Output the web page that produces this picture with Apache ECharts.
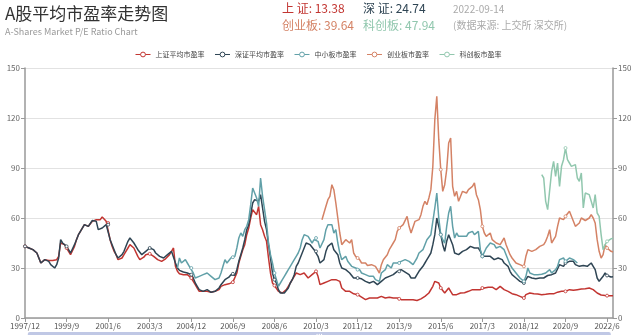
<!DOCTYPE html>
<html>
<head>
<meta charset="utf-8">
<title>A股平均市盈率走势图</title>
<script src="https://cdn.jsdelivr.net/npm/echarts@6/dist/echarts.min.js"></script>
<style>
  html, body { margin: 0; padding: 0; background: #fff; }
  #chart { width: 640px; height: 335px; }
</style>
</head>
<body>
<div id="chart"></div>
<script>
// Monthly P/E ratios, first month 1997/12, last month 2022/9
const FIRST_YEAR = 1997, FIRST_MONTH = 12, MONTH_COUNT = 298;

const seriesNames = ['上证平均市盈率', '深证平均市盈率', '中小板市盈率', '创业板市盈率', '科创板市盈率'];

// 上证 (from 1997/12)
const shPE = [
  43,
  42.5, 42, 41.5, 41, 40.5, 39, 36, 33, 34, 35, 35, 34.5,          // 1998
  34.5, 34.5, 34.5, 35, 37, 45, 44, 44, 42, 40, 38, 37.5,          // 1999
  43, 47, 50, 52, 53, 56, 57, 55, 56, 58, 59, 59,                  // 2000
  58, 59, 60.6, 61, 58, 57, 47, 43, 40, 38, 35, 34.5,              // 2001
  36, 38, 39, 42, 44, 44, 42, 41, 37, 35, 35.5, 36.5,              // 2002
  38, 39, 38.5, 38, 37, 36.5, 35, 34, 34, 35, 35.5, 36,            // 2003
  38, 40, 42, 31, 28, 26.6, 26.3, 26, 26, 26, 25, 24,              // 2004
  24, 20, 18, 16, 16, 16, 16, 16, 15.5, 15.4, 15.5, 16,            // 2005
  16.5, 17, 19, 20, 20, 20, 20.5, 21, 21.5, 22, 27, 33,            // 2006
  37, 41, 44, 50, 54, 60, 65, 64, 62, 67, 56, 53,                  // 2007
  49, 46, 36, 27, 21, 19.5, 20, 16, 15.5, 15, 15.5, 17,            // 2008
  19, 21, 23, 25, 27, 28, 26, 25, 27, 27, 24, 23,                  // 2009
  26, 27, 28, 25, 20, 19, 21, 21, 22, 22, 23, 22,                  // 2010
  23, 22, 22, 18, 17, 16, 16, 16, 15, 14.5, 14, 14,                // 2011
  14, 12.5, 11.5, 11, 12, 12, 12, 12, 12, 12, 12, 13,              // 2012
  12.5, 12, 13, 12.5, 12, 12, 12, 12, 11.5, 11, 11, 11,            // 2013
  11, 11, 11, 11, 10.5, 10.5, 11, 11.5, 12, 13, 14, 15,            // 2014
  16, 19, 22, 21, 21, 18, 17, 15, 16, 18, 16, 14,                  // 2015
  14, 14, 15, 15, 15, 15.2, 15.4, 16, 16, 17, 16.6, 17,            // 2016
  17, 17, 18, 18, 18, 18.5, 17.5, 18.5, 18, 17, 18, 19,            // 2017
  18, 17, 16.5, 16, 15, 14.6, 14.2, 14, 14, 13, 12.5, 12,          // 2018
  14, 15, 15, 15, 14.6, 14.6, 14.4, 14, 14, 14, 14.2, 14.6,        // 2019
  14.6, 14, 14.5, 15, 15.5, 16, 16, 15.4, 16, 16.5, 17, 17,        // 2020
  16.6, 16.8, 17, 17.2, 17.4, 17.4, 17.6, 18, 18, 18, 17, 16,      // 2021
  15, 14, 13.8, 14, 13.5, 13.4, 13.4, 13.4, 13.38                  // 2022
];

// 深证 (from 1997/12)
const szPE = [
  43,
  42.5, 42, 41.5, 41, 40.5, 39, 36, 33, 34, 35, 35, 34,            // 1998
  32, 31, 30, 32, 36, 47, 45, 44.5, 43, 41, 39, 38,                // 1999
  44, 47, 50, 52, 53, 56, 57, 55, 56, 58.5, 58, 58,                // 2000
  53, 52, 54, 55, 56, 56, 47, 44, 41, 38, 36, 36,                  // 2001
  38, 40, 41, 46, 48, 47, 45, 44, 41, 40, 38, 38,                  // 2002
  40, 41, 42, 43, 41, 39, 38, 37, 36, 36, 37, 38,                  // 2003
  39, 40, 39, 33, 30, 28.6, 28, 27.6, 28, 27, 26.5, 26,            // 2004
  24, 21, 19, 17, 16, 16, 16.5, 17, 16, 15.4, 15.5, 16,            // 2005
  17, 18, 20, 21, 23, 24, 24.5, 26, 26.5, 25.6, 29, 34,            // 2006
  38, 42, 47, 53, 56, 62, 69, 71, 72, 70, 74, 66,                  // 2007
  58, 53, 44, 36, 27, 23, 21, 17, 15, 14, 15, 16,                  // 2008
  18, 21, 23, 26, 31, 33, 36, 39, 42, 45, 46, 44,                  // 2009
  43, 41, 40, 37, 33, 32, 35, 40, 43, 44, 45, 41,                  // 2010
  42, 38, 33, 30, 29.5, 29, 28, 27, 25.5, 24, 23, 24,              // 2011
  25, 23.5, 23, 22, 21.5, 21, 22, 22, 21, 20, 19, 22,              // 2012
  23, 24, 25, 25, 25, 26, 27, 28, 28, 29, 28, 27.5,                // 2013
  27, 26, 24, 23, 24, 26, 28, 29.5, 31, 33, 35, 37,                // 2014
  39, 44, 50, 60, 55, 50, 44, 40, 46, 50, 51, 44,                  // 2015
  39, 40, 38, 39, 40, 40, 41, 42, 43, 44, 42, 41,                  // 2016
  42, 40, 37, 36, 37, 38, 37, 36, 35, 35.5, 36, 36,                // 2017
  35, 33, 32, 31, 28, 26, 25, 24, 23, 22, 21.5, 21,                // 2018
  23, 25, 24.5, 24, 23.5, 23.5, 24, 24, 24, 24, 25, 25.5,          // 2019
  25, 26, 27, 27, 28, 32, 31, 31, 33, 33.5, 34, 35,                // 2020
  34, 32, 31, 31, 32, 31.5, 31, 31, 32, 33, 31, 29,                // 2021
  24, 22, 23, 25, 27, 25.5, 25, 24.6, 24.74                        // 2022
];

// 中小板 (2004/5 - 2021/3)
const smeStart = '2004/5';
const smePE = [
  30, 36, 33, 32, 35, 33, 31, 30,                                  // 2004
  27, 24, 23, 25, 26, 26, 27, 27, 26, 25, 24, 23,                  // 2005
  22, 24, 27, 31, 35, 33, 34, 36, 36.5, 37, 42, 48,                // 2006
  51, 49, 53, 55, 59, 68, 78, 77, 72, 67, 84, 73,                  // 2007
  65, 57, 45, 38, 33, 27, 23, 19, 21, 23, 25, 27,                  // 2008
  29, 31, 32, 35, 37, 39, 42, 47, 50, 50.6, 49, 48,                // 2009
  45, 47, 48, 46, 42, 41, 47, 53, 56, 57, 56, 51,                  // 2010
  53, 45, 39, 35, 36, 37, 34, 33, 31, 30, 30, 29,                  // 2011
  29, 27, 27, 26, 25, 25, 26, 25, 23, 23, 22, 27,                  // 2012
  28, 29, 32, 31, 30, 33, 34, 33, 33, 34, 35, 35,                  // 2013
  35, 34, 33, 32, 34, 36, 39, 40, 41, 44, 47, 48,                  // 2014
  50, 58, 66, 75, 60, 50, 47, 45, 55, 63, 67, 55,                  // 2015
  48, 51, 49, 50, 49, 50, 49, 51, 50, 52, 50, 49,                  // 2016
  52, 41, 37, 38, 42, 43, 45, 44, 44, 42, 42, 43,                  // 2017
  42, 41, 38, 35, 32, 30, 29, 27, 26, 24, 23, 22,                  // 2018
  25, 30, 27, 26, 26, 26, 26, 26, 26.2, 26.6, 27, 28,              // 2019
  29, 27, 28, 29, 31, 35, 36, 36, 34, 35, 36, 36.4,                // 2020
  35, 34, 33                                                       // 2021
];

// 创业板 (from 2010/6)
const gemStart = '2010/6';
const gemPE = [
  59, 63, 67, 71, 73, 80, 77,                                      // 2010
  69, 60, 51, 44, 43, 47, 46, 45, 47, 39, 37, 36,                  // 2011
  35, 33, 32, 33, 31.5, 31, 32, 31.5, 31, 29, 27, 32,              // 2012
  35, 36, 38, 41, 43, 45, 47, 52, 54, 53, 56, 57,                  // 2013
  61, 55, 51, 50, 58, 58, 59, 62, 67, 70, 68, 72,                  // 2014
  77, 91, 119, 133, 107, 89, 76, 80, 89, 105, 108, 79,             // 2015
  73, 76, 70, 73, 76, 75, 75, 77, 76, 79, 81, 74,                  // 2016
  71, 65, 55, 51, 49, 50, 51, 47, 46, 45, 46, 44,                  // 2017
  45, 48, 44, 41, 38, 36, 35, 33, 33, 32, 31.5, 31,                // 2018
  37, 41, 40.5, 40, 41, 41, 42, 43, 43.5, 44, 46, 49,              // 2019
  53, 45, 46, 49, 55, 60, 61, 59, 61, 62, 64, 65,                  // 2020
  58, 55, 54, 57, 60, 59, 58.5, 58, 60, 62, 60, 57,                // 2021
  47, 40, 36, 38, 44, 42, 41, 40, 39.64                            // 2022
];

// 科创板 (from 2019/9)
const starStart = '2019/9';
const starPE = [
  86, 84, 70, 65,                                                  // 2019
  65, 88, 94, 85, 93, 79, 91, 95, 102, 95, 93, 91,                 // 2020
  91, 92, 84, 82, 87, 66, 75, 74, 74, 70, 66, 74,                  // 2021
  63, 61, 50, 41, 44, 46, 47, 47.5, 47.94                          // 2022
];

// Latest readings shown in the header
const latestDate = '2022-09-14';
const latest = { sh: '13.38', sz: '24.74', gem: '39.64', star: '47.94' };

const yTicks = { min: 0, max: 150, step: 30 };
const colors = ['#c23531', '#2f4554', '#61a0a8', '#d48265', '#91c7ae'];

// month categories: 1997/12 ... 2022/9
const months = [];
for (let k = 0; k < MONTH_COUNT; k++) {
  const t = (FIRST_YEAR * 12 + FIRST_MONTH - 1) + k;
  months.push(Math.floor(t / 12) + '/' + (t % 12 + 1));
}
function alignTo(start, values) {
  const off = months.indexOf(start);
  const out = new Array(MONTH_COUNT).fill('-');
  values.forEach((v, j) => { out[off + j] = v; });
  return out;
}
const seriesData = [
  shPE, szPE,
  alignTo(smeStart, smePE),
  alignTo(gemStart, gemPE),
  alignTo(starStart, starPE)
];

const FONT = "'Microsoft YaHei', 'Noto Sans CJK SC', sans-serif";
const chart = echarts.init(document.getElementById('chart'));

function headText(left, top, text, fill, size) {
  return { type: 'text', left: left, top: top,
    style: { text: text, fill: fill, font: size + 'px ' + FONT } };
}

const axisCommon = {
  type: 'value', min: yTicks.min, max: yTicks.max, interval: yTicks.step,
  axisLine: { show: true, lineStyle: { color: '#999', width: 1.5 } },
  axisTick: { show: true, length: 4, lineStyle: { color: '#999' } },
  axisLabel: { fontSize: 8, color: '#666', margin: 5 }
};

chart.setOption({
  color: colors,
  textStyle: { fontFamily: FONT },
  animation: false,
  title: {
    text: 'A股平均市盈率走势图',
    subtext: 'A-Shares Market P/E Ratio Chart',
    left: 0, top: 0, itemGap: 5,
    textStyle: { fontSize: 17, fontWeight: 'normal', color: '#333' },
    subtextStyle: { fontSize: 9, color: '#999' }
  },
  graphic: [
    headText(282, 2, '上 证: ' + latest.sh, colors[0], 12),
    headText(363, 2, '深 证: ' + latest.sz, colors[1], 12),
    headText(453, 4, latestDate, '#aaa', 10),
    headText(282, 19, '创业板: ' + latest.gem, colors[3], 12),
    headText(363, 19, '科创板: ' + latest.star, colors[4], 12),
    headText(453, 20, '(数据来源: 上交所 深交所)', '#aaa', 10)
  ],
  legend: {
    data: seriesNames,
    left: 130, top: 46,
    itemWidth: 15, itemHeight: 6, itemGap: 10,
    itemStyle: { borderWidth: 1 },
    lineStyle: { width: 1 },
    textStyle: { fontSize: 7, color: '#444' }
  },
  grid: { left: 25, right: 27, top: 68, bottom: 17 },
  xAxis: {
    type: 'category', data: months, boundaryGap: false,
    axisLine: { lineStyle: { color: '#999', width: 1.5 } },
    axisTick: { interval: 20, length: 4, lineStyle: { color: '#999' } },
    axisLabel: { interval: 20, fontSize: 8, color: '#555', margin: 4 }
  },
  yAxis: [
    Object.assign({}, axisCommon, { position: 'left',
      splitLine: { show: true, lineStyle: { color: '#e2e2e2' } } }),
    Object.assign({}, axisCommon, { position: 'right', splitLine: { show: false } })
  ],
  dataZoom: [{ type: 'slider', xAxisIndex: 0, start: 0, end: 100,
    left: 25, right: 32, top: 332, height: 30 }],
  series: seriesNames.map((name, s) => ({
    name: name, type: 'line', data: seriesData[s],
    symbol: 'circle', symbolSize: 3,
    itemStyle: { color: '#fff', borderColor: colors[s], borderWidth: 0.8 },
    lineStyle: { color: colors[s], width: 1.5 }
  }))
});
</script>
</body>
</html>
